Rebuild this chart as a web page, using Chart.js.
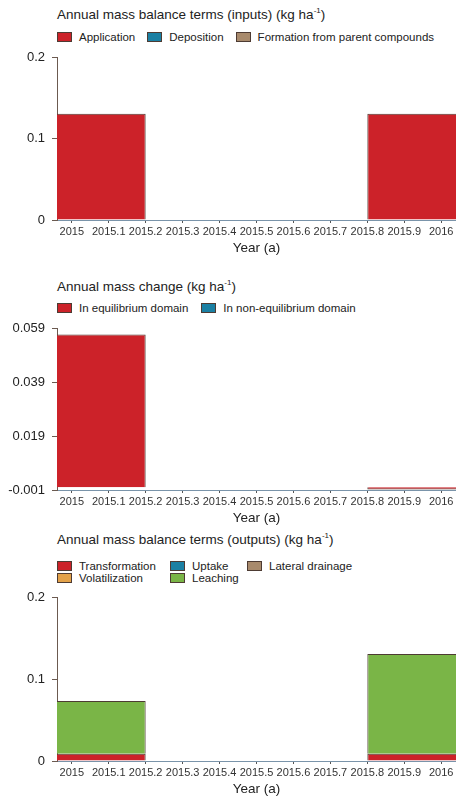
<!DOCTYPE html>
<html>
<head>
<meta charset="utf-8">
<script src="https://cdn.jsdelivr.net/npm/chart.js@4.4.1/dist/chart.umd.min.js"></script>
<style>
body { margin: 0; width: 456px; height: 796px; overflow: hidden; background: #fff; font-family: "Liberation Sans", Arial, sans-serif; color: #222; position: relative; }
.title { position: absolute; left: 57px; font-size: 13.5px; line-height: 16px; white-space: nowrap; }
.title sup { font-size: 8px; vertical-align: 6px; line-height: 0; }
.legend { position: absolute; left: 57px; display: grid; font-size: 11.5px; line-height: 12px; }
.item { display: flex; align-items: center; white-space: nowrap; }
.box { width: 15px; height: 10px; border: 1px solid #4d3b33; box-sizing: border-box; margin-right: 7px; }
.plot { position: absolute; left: 0; width: 456px; }
</style>
</head>
<body>

<div class="title" style="top:7px">Annual mass balance terms (inputs) (kg ha<sup>-1</sup>)</div>
<div class="legend" id="legend1" style="top:31px; grid-template-columns: auto auto auto; column-gap: 12px"></div>
<div class="plot" style="top:43px; height:217px"><canvas id="chart1"></canvas></div>

<div class="title" style="top:279px">Annual mass change (kg ha<sup>-1</sup>)</div>
<div class="legend" id="legend2" style="top:302px; grid-template-columns: auto auto; column-gap: 13px"></div>
<div class="plot" style="top:314px; height:216px"><canvas id="chart2"></canvas></div>

<div class="title" style="top:532px">Annual mass balance terms (outputs) (kg ha<sup>-1</sup>)</div>
<div class="legend" id="legend3" style="top:560px; grid-template-columns: 113px 77px auto"></div>
<div class="plot" style="top:583px; height:218px"><canvas id="chart3"></canvas></div>

<script>
Chart.defaults.font.family = '"Liberation Sans", Arial, sans-serif';

// bar positions (years) and x ticks
const years = [2015, 2016];
const xTicks = [2015, 2015.1, 2015.2, 2015.3, 2015.4, 2015.5, 2015.6, 2015.7, 2015.8, 2015.9, 2016];
const xTickLabels = ['2015', '2015.1', '2015.2', '2015.3', '2015.4', '2015.5', '2015.6', '2015.7', '2015.8', '2015.9', '2016'];

// inputs
const application = [0.131, 0.131];
const deposition = [0, 0];
const formation = [0, 0];
const inputTicks = [0, 0.1, 0.2];

// mass change
const equilibrium = [0.0569, -0.0008];
const nonEquilibrium = [0, 0];
const changeTicks = [-0.001, 0.019, 0.039, 0.059];

// outputs
const transformation = [0.009, 0.009];
const uptake = [0, 0];
const lateralDrainage = [0, 0];
const volatilization = [0, 0];
const leaching = [0.0646, 0.1222];
const outputTicks = [0, 0.1, 0.2];

const RED = '#cc2229';
const TEAL = '#1b80a3';
const TAN = '#a88a6c';
const ORANGE = '#e3a24a';
const GREEN = '#7ab547';

function series(label, values, color) {
    return {
        label: label,
        data: years.map((x, i) => ({ x: x, y: values[i] })),
        backgroundColor: color,
        borderColor: '#4d3b33',
        borderWidth: 1,
        clip: 0
    };
}

function makeLegend(id, datasets, order) {
    let el = document.getElementById(id);
    order.forEach(function (i) {
        let ds = datasets[i];
        let item = document.createElement('div');
        item.className = 'item';
        item.innerHTML = '<span class="box" style="background:' + ds.backgroundColor + '"></span>' + ds.label;
        el.appendChild(item);
    });
}

function makeChart(id, datasets, yTicks) {
    return new Chart(document.getElementById(id), {
        type: 'bar',
        data: { datasets: datasets },
        options: {
            responsive: true,
            maintainAspectRatio: false,
            animation: false,
            layout: { padding: { top: 10, right: 0, bottom: 0, left: 0 } },
            plugins: { legend: { display: false }, tooltip: { enabled: false } },
            // bar width is measured against the 0.1-year tick spacing, so 4 = 0.4 year wide
            datasets: { bar: { barPercentage: 1, categoryPercentage: 4 } },
            scales: {
                x: {
                    type: 'linear',
                    stacked: true,
                    min: 2014.96,
                    max: 2016.04,
                    offset: false,
                    afterBuildTicks: function (s) { s.ticks = xTicks.map(v => ({ value: v })); },
                    afterFit: function (s) { s.height = 40; },
                    grid: { display: true, offset: false, drawOnChartArea: false, tickLength: 3, color: '#555' },
                    border: { color: '#7a94aa', width: 1 },
                    ticks: {
                        autoSkip: false, maxRotation: 0, padding: 2, color: '#333',
                        font: { size: 11 },
                        callback: function (v, i) { return xTickLabels[i]; }
                    },
                    title: { display: true, text: 'Year (a)', color: '#222', font: { size: 13.5 }, padding: { top: 4, bottom: 4 } }
                },
                y: {
                    stacked: true,
                    min: yTicks[0],
                    max: yTicks[yTicks.length - 1],
                    afterBuildTicks: function (s) { s.ticks = yTicks.map(v => ({ value: v })); },
                    afterFit: function (s) { s.width = 57; },
                    grid: { drawOnChartArea: false, tickLength: 5, color: '#6b5a50' },
                    border: { color: '#6b5a50', width: 1 },
                    ticks: {
                        padding: 7, color: '#222', font: { size: 13 },
                        callback: function (v) { return String(v); }
                    }
                }
            }
        }
    });
}

const inputSets = [
    series('Application', application, RED),
    series('Deposition', deposition, TEAL),
    series('Formation from parent compounds', formation, TAN)
];
const changeSets = [
    series('In equilibrium domain', equilibrium, RED),
    series('In non-equilibrium domain', nonEquilibrium, TEAL)
];
const outputSets = [
    series('Transformation', transformation, RED),
    series('Uptake', uptake, TEAL),
    series('Lateral drainage', lateralDrainage, TAN),
    series('Volatilization', volatilization, ORANGE),
    series('Leaching', leaching, GREEN)
];

makeLegend('legend1', inputSets, [0, 1, 2]);
makeLegend('legend2', changeSets, [0, 1]);
makeLegend('legend3', outputSets, [0, 1, 2, 3, 4]);

makeChart('chart1', inputSets, inputTicks);
makeChart('chart2', changeSets, changeTicks);
makeChart('chart3', outputSets, outputTicks);
</script>
</body>
</html>
